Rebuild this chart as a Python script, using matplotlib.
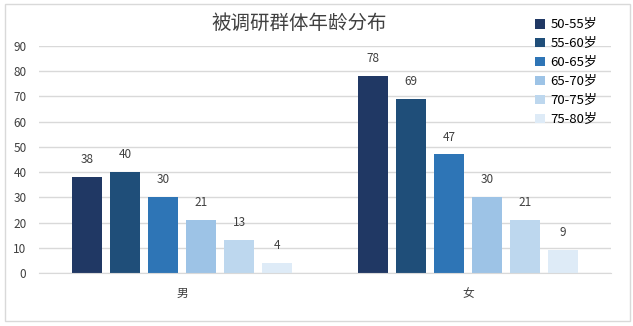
import matplotlib.pyplot as plt
from matplotlib.patches import Rectangle
import numpy as np

plt.rcParams['font.family'] = ['Noto Sans CJK SC', 'DejaVu Sans']

genders = ["男", "女"]
age_groups = ["50-55岁", "55-60岁", "60-65岁", "65-70岁", "70-75岁", "75-80岁"]
counts = [
    [38, 78],
    [40, 69],
    [30, 47],
    [21, 30],
    [13, 21],
    [4, 9],
]
colors = ["#203864", "#1F4E79", "#2E75B6", "#9DC3E6", "#BDD7EE", "#DEEBF7"]

fig = plt.figure(figsize=(6.33, 3.26), dpi=100)
fig.patches.append(Rectangle((5 / 633, 5 / 326), 625 / 633, 317 / 326,
                             transform=fig.transFigure, fill=False,
                             edgecolor="#D9D9D9", linewidth=1))
ax = fig.add_axes([39 / 633, 53 / 326, 572 / 633, 227 / 326])

x = np.arange(len(genders))
width = 0.105
step = 0.133
for i, (label, vals) in enumerate(zip(age_groups, counts)):
    pos = x + (i - 2.5) * step
    bars = ax.bar(pos, vals, width, color=colors[i], label=label, zorder=2)
    for b, v in zip(bars, vals):
        ax.text(b.get_x() + b.get_width() / 2, v + 4.3, str(v),
                ha="center", va="bottom", fontsize=8.5, color="#404040")

ax.set_xlim(-0.5, 1.5)
ax.set_ylim(0, 90)
ax.set_yticks(range(0, 91, 10))
ax.set_xticks(x)
ax.set_xticklabels(genders, fontsize=8.5, color="#404040")
ax.tick_params(axis="y", labelsize=8.5, labelcolor="#404040", length=0, pad=9)
ax.tick_params(axis="x", length=0, pad=10)
ax.grid(axis="y", color="#D9D9D9", linewidth=1, zorder=0)
for s in ["top", "right", "left"]:
    ax.spines[s].set_visible(False)
ax.spines["bottom"].set_color("#D9D9D9")

fig.text(0.473, 0.928, "被调研群体年龄分布", ha="center", va="center",
         fontsize=14, color="#404040")

fig.legend(loc="upper left", bbox_to_anchor=(530 / 633, 0.96), frameon=False,
           fontsize=9.5, handlelength=0.75, handleheight=0.75, handletextpad=0.4,
           labelspacing=0.45, borderaxespad=0)

fig.savefig("out.png", dpi=100)
